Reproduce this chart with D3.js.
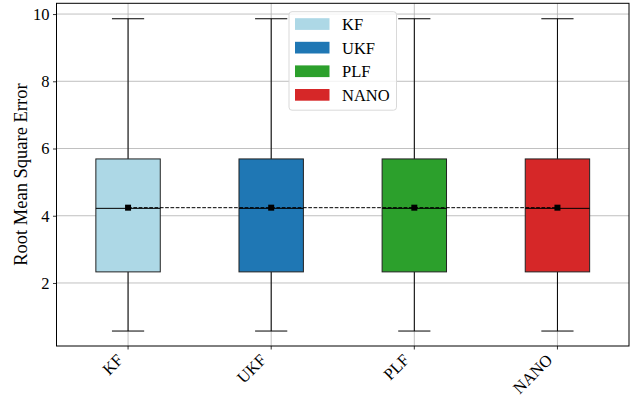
<!DOCTYPE html>
<html>
<head>
<meta charset="utf-8">
<script src="https://cdn.jsdelivr.net/npm/d3@7"></script>
<style>
  body { margin: 0; background: #fff; }
  svg { display: block; font-family: "Liberation Serif", "Times New Roman", serif; }
</style>
</head>
<body>
<svg id="chart" width="642" height="403"></svg>
<script>
// Filter names and their box colours
const categories = ["KF", "UKF", "PLF", "NANO"];
const colors = ["#add8e6", "#1f77b4", "#2ca02c", "#d62728"];

// Box statistics per filter (RMSE)
const whiskerLow = [0.57, 0.57, 0.57, 0.57];
const q1 = [2.33, 2.33, 2.33, 2.33];
const median = [4.22, 4.22, 4.22, 4.22];
const mean = [4.24, 4.24, 4.24, 4.24];
const q3 = [5.69, 5.69, 5.69, 5.69];
const whiskerHigh = [9.86, 9.86, 9.86, 9.86];

const yTicks = [2, 4, 6, 8, 10];

const svg = d3.select("#chart");
const margin = { left: 56.5, right: 13, top: 3.3, bottom: 57 };
const W = 642, H = 403;
const FONT = '"Liberation Serif", "Times New Roman", serif';

const x = d3.scaleBand()
  .domain(categories)
  .range([margin.left, W - margin.right])
  .padding(0);
const y = d3.scaleLinear()
  .domain([0.125, 10.32])
  .range([H - margin.bottom, margin.top]);

const cx = c => x(c) + x.bandwidth() / 2;
const boxW = x.bandwidth() * 0.45;
const capW = boxW / 2;

// grid
const grid = svg.append("g");
grid.selectAll("line.h").data(yTicks).join("line")
  .attr("x1", margin.left).attr("x2", W - margin.right)
  .attr("y1", d => y(d)).attr("y2", d => y(d))
  .attr("stroke", "#b0b0b0").attr("stroke-width", 0.8);
grid.selectAll("line.v").data(categories).join("line")
  .attr("x1", d => cx(d)).attr("x2", d => cx(d))
  .attr("y1", margin.top).attr("y2", H - margin.bottom)
  .attr("stroke", "#b0b0b0").attr("stroke-width", 0.8);

// boxes
const rows = categories.map((c, i) => ({
  c, color: colors[i], lo: whiskerLow[i], q1: q1[i], med: median[i],
  mean: mean[i], q3: q3[i], hi: whiskerHigh[i]
}));

const g = svg.append("g").selectAll("g").data(rows).join("g");
// whiskers
g.append("line").attr("x1", d => cx(d.c)).attr("x2", d => cx(d.c))
  .attr("y1", d => y(d.q3)).attr("y2", d => y(d.hi))
  .attr("stroke", "#000").attr("stroke-width", 1);
g.append("line").attr("x1", d => cx(d.c)).attr("x2", d => cx(d.c))
  .attr("y1", d => y(d.q1)).attr("y2", d => y(d.lo))
  .attr("stroke", "#000").attr("stroke-width", 1);
g.append("line").attr("x1", d => cx(d.c) - capW / 2).attr("x2", d => cx(d.c) + capW / 2)
  .attr("y1", d => y(d.hi)).attr("y2", d => y(d.hi))
  .attr("stroke", "#000").attr("stroke-width", 1);
g.append("line").attr("x1", d => cx(d.c) - capW / 2).attr("x2", d => cx(d.c) + capW / 2)
  .attr("y1", d => y(d.lo)).attr("y2", d => y(d.lo))
  .attr("stroke", "#000").attr("stroke-width", 1);
g.append("rect")
  .attr("x", d => cx(d.c) - boxW / 2).attr("width", boxW)
  .attr("y", d => y(d.q3)).attr("height", d => y(d.q1) - y(d.q3))
  .attr("fill", d => d.color).attr("stroke", "#222").attr("stroke-width", 1);
g.append("line").attr("x1", d => cx(d.c) - boxW / 2).attr("x2", d => cx(d.c) + boxW / 2)
  .attr("y1", d => y(d.med)).attr("y2", d => y(d.med))
  .attr("stroke", "#000").attr("stroke-width", 1);

// mean trend line
svg.append("path")
  .datum(rows)
  .attr("d", d3.line().x(d => cx(d.c)).y(d => y(d.mean)))
  .attr("fill", "none").attr("stroke", "#000").attr("stroke-width", 1)
  .attr("stroke-dasharray", "3.7,1.6");

// mean markers
svg.append("g").selectAll("rect").data(rows).join("rect")
  .attr("x", d => cx(d.c) - 3).attr("y", d => y(d.mean) - 3)
  .attr("width", 6).attr("height", 6).attr("fill", "#000");

// axes
const yAxis = svg.append("g")
  .attr("transform", `translate(${margin.left},0)`)
  .call(d3.axisLeft(y).tickValues(yTicks).tickSize(3.5).tickPadding(3.5));
const xAxis = svg.append("g")
  .attr("transform", `translate(0,${H - margin.bottom})`)
  .call(d3.axisBottom(x).tickSize(3.5).tickPadding(3.5));
[yAxis, xAxis].forEach(a => {
  a.attr("font-family", FONT).attr("font-size", 16.5);
  a.select(".domain").remove();
  a.selectAll("line").attr("stroke", "#000").attr("stroke-width", 0.8);
  a.selectAll("text").attr("fill", "#000");
});
xAxis.selectAll("text")
  .attr("text-anchor", "end")
  .attr("x", 0).attr("y", 0).attr("dy", 0)
  .attr("transform", "translate(-4,15) rotate(-45)");

// frame
svg.append("rect")
  .attr("x", margin.left).attr("y", margin.top)
  .attr("width", W - margin.right - margin.left)
  .attr("height", H - margin.bottom - margin.top)
  .attr("fill", "none").attr("stroke", "#000").attr("stroke-width", 1);

// y label
svg.append("text")
  .attr("transform", `translate(27,${(margin.top + H - margin.bottom) / 2}) rotate(-90)`)
  .attr("text-anchor", "middle")
  .attr("font-family", FONT)
  .attr("font-size", 18.5)
  .text("Root Mean Square Error");

// legend
const lg = svg.append("g").attr("transform", "translate(289,11.7)");
lg.append("rect").attr("width", 107.5).attr("height", 98.5).attr("rx", 3)
  .attr("fill", "#fff").attr("fill-opacity", 0.8)
  .attr("stroke", "#d9d9d9").attr("stroke-width", 1);
const li = lg.selectAll("g.item").data(categories).join("g")
  .attr("transform", (d, i) => `translate(6,${12.5 + i * 23.6})`);
li.append("rect").attr("x", 0).attr("y", -6).attr("width", 34.5).attr("height", 11.7)
  .attr("fill", (d, i) => colors[i]);
li.append("text").attr("x", 47).attr("y", 0).attr("dy", "0.35em")
  .attr("font-family", FONT).attr("font-size", 16.5).text(d => d);
</script>
</body>
</html>
